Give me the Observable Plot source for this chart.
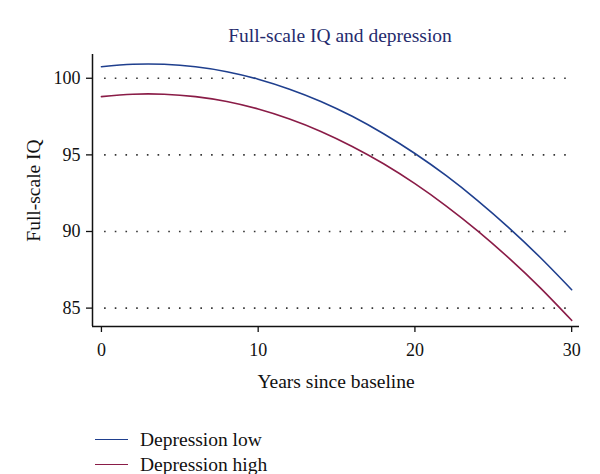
<!DOCTYPE html>
<html>
<head>
<meta charset="utf-8">
<script src="https://cdn.jsdelivr.net/npm/d3@7"></script>
<script src="https://cdn.jsdelivr.net/npm/@observablehq/plot@0.6"></script>
<style>
  body { margin: 0; background: #fff; font-family: "Liberation Serif", serif; }
  #wrap { width: 600px; height: 474px; position: relative; }
  #title { height: 50px; box-sizing: border-box; padding-top: 25px; text-align: center; padding-left: 80px;
           font-size: 19.5px; color: #252b6d; line-height: 22px; }
  #legend { position: absolute; left: 95px; top: 427px; font-size: 19.5px; color: #111; }
  .row { display: flex; align-items: center; height: 25px; }
  .sw { width: 33px; height: 0; border-top: 1.6px solid; margin-right: 12px; }
</style>
</head>
<body>
<div id="wrap">
  <div id="title">Full-scale IQ and depression</div>
  <div id="chart"></div>
  <div id="legend"></div>
</div>
<script>
const years = [0, 2, 4, 6, 8, 10, 12, 14, 16, 18, 20, 22, 24, 26, 28, 30];
const depressionLow  = [100.75, 100.91, 100.91, 100.75, 100.43, 99.94, 99.29, 98.49, 97.52, 96.38, 95.09, 93.64, 92.02, 90.24, 88.30, 86.20];
const depressionHigh = [98.80, 98.96, 98.96, 98.80, 98.48, 97.99, 97.34, 96.53, 95.55, 94.42, 93.12, 91.66, 90.04, 88.26, 86.32, 84.20];
const seriesNames = ["Depression low", "Depression high"];
const seriesColors = ["#1f3f8e", "#8a1c47"];
const xTicks = [0, 10, 20, 30];
const yTicks = [85, 90, 95, 100];

const data = [];
years.forEach((y, i) => {
  data.push({year: y, iq: depressionLow[i], group: seriesNames[0]});
  data.push({year: y, iq: depressionHigh[i], group: seriesNames[1]});
});

const xDomain = [-0.57, 30.5];
const yDomain = [83.8, 101.55];

const chart = Plot.plot({
  width: 600,
  height: 350,
  marginTop: 4,
  marginLeft: 92,
  marginRight: 21,
  marginBottom: 74,
  style: {fontFamily: "Liberation Serif, serif", fontSize: "18px", color: "#111", background: "transparent"},
  x: {domain: xDomain},
  y: {domain: yDomain},
  color: {domain: seriesNames, range: seriesColors},
  marks: [
    Plot.ruleY(yTicks, {x1: 0.2, x2: 30.1, stroke: "#333", strokeWidth: 1.6, strokeDasharray: "1.6,9.1"}),
    Plot.axisY({ticks: yTicks, tickSize: 6, tickPadding: 6, fontSize: 18, label: null, stroke: "#111", strokeWidth: 1.3}),
    Plot.axisY({ticks: [], tickSize: 0, fontSize: 19.5, label: "Full-scale IQ", labelAnchor: "center", labelOffset: 66, labelArrow: "none"}),
    Plot.axisX({ticks: xTicks, tickSize: 6, tickPadding: 11, fontSize: 18, label: null, stroke: "#111", strokeWidth: 1.3}),
    Plot.axisX({ticks: [], tickSize: 0, fontSize: 19.5, label: "Years since baseline", labelAnchor: "center", labelOffset: 61, labelArrow: "none"}),
    Plot.ruleX([xDomain[0]], {stroke: "#111", strokeWidth: 1.5}),
    Plot.ruleY([yDomain[0]], {stroke: "#111", strokeWidth: 1.5}),
    Plot.line(data, {x: "year", y: "iq", stroke: "group", z: "group", curve: "natural", strokeWidth: 1.6})
  ]
});
document.getElementById("chart").appendChild(chart);

const legend = document.getElementById("legend");
seriesNames.forEach((n, i) => {
  const row = document.createElement("div");
  row.className = "row";
  const sw = document.createElement("span");
  sw.className = "sw";
  sw.style.borderTopColor = seriesColors[i];
  const t = document.createElement("span");
  t.textContent = n;
  row.appendChild(sw); row.appendChild(t);
  legend.appendChild(row);
});
</script>
</body>
</html>
